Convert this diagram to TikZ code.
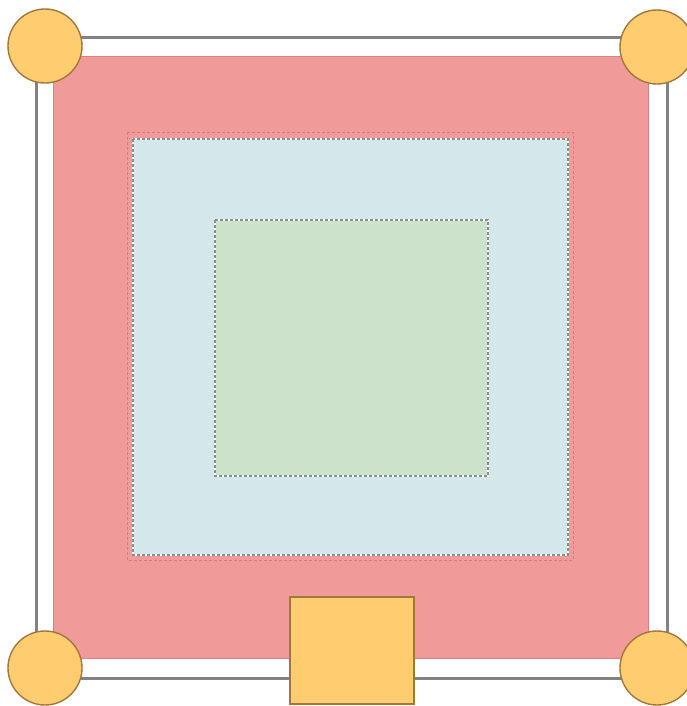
\documentclass[tikz,border=0pt]{standalone}
\definecolor{framegray}{RGB}{130,130,130}
\definecolor{pinkfill}{RGB}{240,154,153}
\definecolor{pinkedge}{RGB}{222,128,130}
\definecolor{bluefill}{RGB}{212,232,236}
\definecolor{greenfill}{RGB}{204,226,203}
\definecolor{orangefill}{RGB}{255,204,112}
\definecolor{orangeedge}{RGB}{160,120,60}
\definecolor{dashgray}{RGB}{140,140,140}
\tikzset{
  frame/.style={draw=framegray, line width=3pt, fill=white},
  pinkbox/.style={fill=pinkfill, draw=pinkedge, line width=1pt},
  dashbox/.style={draw=dashgray, line width=1.6pt, dash pattern=on 3pt off 2pt},
  whiteline/.style={draw=white, line width=2.2pt},
  outerdash/.style={draw=pinkedge!80!black, line width=1pt, dash pattern=on 3pt off 2pt, opacity=0.5},
  corner/.style={circle, fill=orangefill, draw=orangeedge, line width=1.4pt, minimum size=74pt, inner sep=0pt},
  gate/.style={rectangle, fill=orangefill, draw=orangeedge, line width=1.4pt, minimum width=124pt, minimum height=107pt, inner sep=0pt}
}
\begin{document}
\begin{tikzpicture}[x=1pt,y=-1pt]
\useasboundingbox (0,0) rectangle (686,706);
% outer frame
\draw[frame] (36,38) rectangle (667,678);
% pink area
\fill[pinkbox] (53,57) rectangle (648,658);
% blue area
\draw[outerdash] (127,132) rectangle (573,560);
\fill[bluefill] (133,139) rectangle (568,555);
\draw[whiteline] (133,139) rectangle (568,555);
\draw[dashbox] (133,139) rectangle (568,555);
% green area
\fill[greenfill] (215,220) rectangle (488,476);
\draw[whiteline] (215,220) rectangle (488,476);
\draw[dashbox] (215,220) rectangle (488,476);
% corners
\node[corner] (tl) at (45,46) {};
\node[corner] (tr) at (657,47) {};
\node[corner] (bl) at (45,668) {};
\node[corner] (br) at (657,668) {};
% gate
\node[gate] (gate) at (352,650.5) {};
\end{tikzpicture}
\end{document}
